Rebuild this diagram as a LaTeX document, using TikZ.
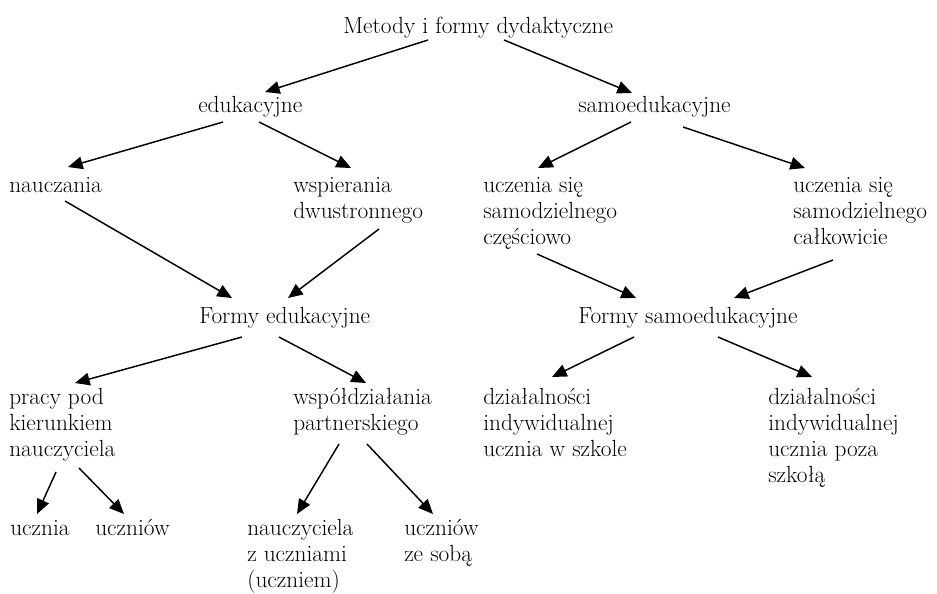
\documentclass[tikz,border=0pt]{standalone}
\usepackage{fontspec}
\usetikzlibrary{arrows.meta}
\newcommand\mlines[1]{\begin{tabular}[t]{@{}l@{}}#1\end{tabular}}
\tikzset{
  lbl/.style={anchor=base west, inner sep=0pt, font=\fontsize{17.5}{19.5}\selectfont},
  arr/.style={-{Triangle[length=11pt,width=9.5pt]}, line width=1.1pt}
}
\begin{document}
\begin{tikzpicture}[x=0.75pt, y=-0.75pt]
\useasboundingbox (0,0) rectangle (937,593);
% nodes
\node[lbl] (top) at (343,33) {Metody i formy dydaktyczne};
\node[lbl] (edu) at (198,112) {edukacyjne};
\node[lbl] (samo) at (578,112) {samoedukacyjne};
\node[lbl] (nau) at (9,192) {nauczania};
\node[lbl] (wsp) at (293,192) {\mlines{wspierania\\dwustronnego}};
\node[lbl] (ucz1) at (483,192) {\mlines{uczenia się\\samodzielnego\\częściowo}};
\node[lbl] (ucz2) at (793,192) {\mlines{uczenia się\\samodzielnego\\całkowicie}};
\node[lbl] (fedu) at (199,323) {Formy edukacyjne};
\node[lbl] (fsamo) at (578,323) {Formy samoedukacyjne};
\node[lbl] (pracy) at (9,404) {\mlines{pracy pod\\kierunkiem\\nauczyciela}};
\node[lbl] (wspol) at (293,404) {\mlines{współdziałania\\partnerskiego}};
\node[lbl] (dzial1) at (483,404) {\mlines{działalności\\indywidualnej\\ucznia w szkole}};
\node[lbl] (dzial2) at (768,404) {\mlines{działalności\\indywidualnej\\ucznia poza\\szkołą}};
\node[lbl] (ucznia) at (10,535) {ucznia};
\node[lbl] (uczniow) at (95,535) {uczniów};
\node[lbl] (nauczz) at (247,535) {\mlines{nauczyciela\\z uczniami\\(uczniem)}};
\node[lbl] (uczze) at (404,535) {\mlines{uczniów\\ze sobą}};
% connectors
\draw[arr] ([shift={(85,7)}]top.base west) -- ([shift={(67,-20)}]edu.base west);
\draw[arr] ([shift={(161,7)}]top.base west) -- ([shift={(54,-19)}]samo.base west);
\draw[arr] ([shift={(25,10)}]edu.base west) -- ([shift={(59,-25)}]nau.base west);
\draw[arr] ([shift={(61,10)}]edu.base west) -- ([shift={(58,-24)}]wsp.base west);
\draw[arr] ([shift={(53,10)}]samo.base west) -- ([shift={(55,-24)}]ucz1.base west);
\draw[arr] ([shift={(105,15)}]samo.base west) -- ([shift={(12,-24)}]ucz2.base west);
\draw[arr] ([shift={(56,9)}]nau.base west) -- ([shift={(33,-25)}]fedu.base west);
\draw[arr] ([shift={(86,37)}]wsp.base west) -- ([shift={(89,-25)}]fedu.base west);
\draw[arr] ([shift={(54,62)}]ucz1.base west) -- ([shift={(58,-25)}]fsamo.base west);
\draw[arr] ([shift={(40,68)}]ucz2.base west) -- ([shift={(156,-25)}]fsamo.base west);
\draw[arr] ([shift={(43,14)}]fedu.base west) -- ([shift={(66,-21)}]pracy.base west);
\draw[arr] ([shift={(80,14)}]fedu.base west) -- ([shift={(73,-21)}]wspol.base west);
\draw[arr] ([shift={(56,14)}]fsamo.base west) -- ([shift={(69,-27)}]dzial1.base west);
\draw[arr] ([shift={(140,14)}]fsamo.base west) -- ([shift={(44,-27)}]dzial2.base west);
\draw[arr] ([shift={(47,68)}]pracy.base west) -- ([shift={(27,-21)}]ucznia.base west);
\draw[arr] ([shift={(70,64)}]pracy.base west) -- ([shift={(29,-21)}]uczniow.base west);
\draw[arr] ([shift={(46,40)}]wspol.base west) -- ([shift={(50,-21)}]nauczz.base west);
\draw[arr] ([shift={(74,40)}]wspol.base west) -- ([shift={(29,-21)}]uczze.base west);
\end{tikzpicture}
\end{document}
